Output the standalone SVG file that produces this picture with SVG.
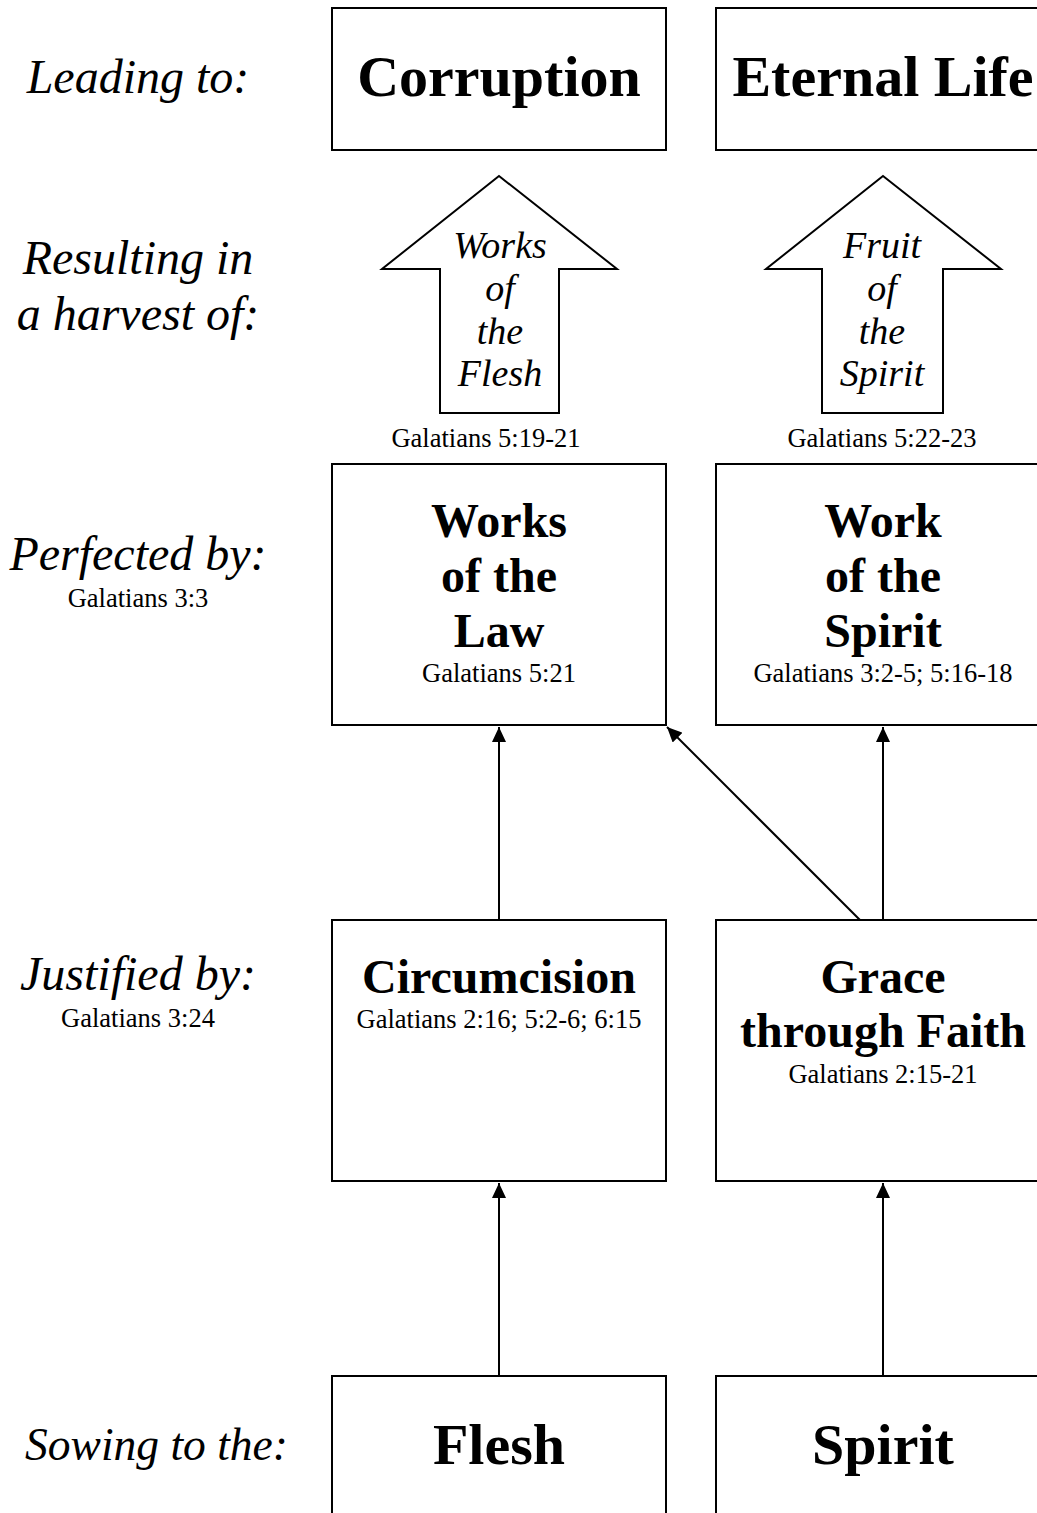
<svg xmlns="http://www.w3.org/2000/svg" width="1037" height="1513" viewBox="0 0 1037 1513">
<style>
.box{fill:#fff;stroke:#000;stroke-width:2}
.lbl{font-family:"Liberation Serif","Times New Roman",serif;font-style:italic;font-size:48px;text-anchor:middle;fill:#000}
.ref{font-family:"Liberation Serif","Times New Roman",serif;font-size:26.5px;text-anchor:middle;fill:#000}
.big{font-family:"Liberation Serif","Times New Roman",serif;font-weight:bold;font-size:58px;text-anchor:middle;fill:#000}
.mid{font-family:"Liberation Serif","Times New Roman",serif;font-weight:bold;font-size:48px;text-anchor:middle;fill:#000}
.arr{font-family:"Liberation Serif","Times New Roman",serif;font-style:italic;font-size:38px;text-anchor:middle;fill:#000}
.con{stroke:#000;stroke-width:2;fill:none;marker-end:url(#ah)}
</style>
<defs>
<marker id="ah" markerUnits="userSpaceOnUse" markerWidth="15" markerHeight="14" refX="15" refY="7" orient="auto">
<path d="M0,0 L15,7 L0,14 z" fill="#000"/>
</marker>
</defs>
<rect width="1037" height="1513" fill="#fff"/>

<g id="row-labels">
<text class="lbl" x="138" y="93">Leading to:</text>
<text class="lbl" x="138" y="274">Resulting in</text>
<text class="lbl" x="138" y="330">a harvest of:</text>
<text class="lbl" x="138" y="570">Perfected by:</text>
<text class="ref" x="138" y="607">Galatians 3:3</text>
<text class="lbl" x="138" y="990">Justified by:</text>
<text class="ref" x="138" y="1027">Galatians 3:24</text>
<text class="lbl" x="156.5" y="1460" style="font-size:45.5px">Sowing to the:</text>
</g>

<g id="corruption">
<rect class="box" x="332" y="8" width="334" height="142"/>
<text class="big" x="499" y="96">Corruption</text>
</g>
<g id="eternal-life">
<rect class="box" x="716" y="8" width="334" height="142"/>
<text class="big" x="883" y="96">Eternal Life</text>
</g>

<g id="works-of-the-flesh">
<polygon points="499,176 617,269 559,269 559,413 440,413 440,269 382,269" fill="#fff" stroke="#000" stroke-width="2"/>
<text class="arr" x="500" y="258">Works</text>
<text class="arr" x="500" y="301">of</text>
<text class="arr" x="500" y="344">the</text>
<text class="arr" x="500" y="386">Flesh</text>
<text class="ref" x="486" y="447">Galatians 5:19-21</text>
</g>
<g id="fruit-of-the-spirit">
<polygon points="883,176 1001,269 943,269 943,413 822,413 822,269 766,269" fill="#fff" stroke="#000" stroke-width="2"/>
<text class="arr" x="882" y="258">Fruit</text>
<text class="arr" x="882" y="301">of</text>
<text class="arr" x="882" y="344">the</text>
<text class="arr" x="882" y="386">Spirit</text>
<text class="ref" x="882" y="447">Galatians 5:22-23</text>
</g>

<g id="works-of-the-law">
<rect class="box" x="332" y="464" width="334" height="261"/>
<text class="mid" x="499" y="537">Works</text>
<text class="mid" x="499" y="592">of the</text>
<text class="mid" x="499" y="647">Law</text>
<text class="ref" x="499" y="682">Galatians 5:21</text>
</g>
<g id="work-of-the-spirit">
<rect class="box" x="716" y="464" width="334" height="261"/>
<text class="mid" x="883" y="537">Work</text>
<text class="mid" x="883" y="592">of the</text>
<text class="mid" x="883" y="647">Spirit</text>
<text class="ref" x="883" y="682">Galatians 3:2-5; 5:16-18</text>
</g>

<g id="circumcision">
<rect class="box" x="332" y="920" width="334" height="261"/>
<text class="mid" x="499" y="993">Circumcision</text>
<text class="ref" x="499" y="1028">Galatians 2:16; 5:2-6; 6:15</text>
</g>
<g id="grace-through-faith">
<rect class="box" x="716" y="920" width="334" height="261"/>
<text class="mid" x="883" y="993">Grace</text>
<text class="mid" x="883" y="1047">through Faith</text>
<text class="ref" x="883" y="1083">Galatians 2:15-21</text>
</g>

<g id="flesh">
<rect class="box" x="332" y="1376" width="334" height="160"/>
<text class="big" x="499" y="1464">Flesh</text>
</g>
<g id="spirit">
<rect class="box" x="716" y="1376" width="334" height="160"/>
<text class="big" x="883" y="1464">Spirit</text>
</g>

<g id="connectors">
<line class="con" x1="499" y1="919" x2="499" y2="727"/>
<line class="con" x1="883" y1="919" x2="883" y2="727"/>
<line class="con" x1="860" y1="920" x2="667" y2="727"/>
<line class="con" x1="499" y1="1375" x2="499" y2="1183"/>
<line class="con" x1="883" y1="1375" x2="883" y2="1183"/>
</g>
</svg>
